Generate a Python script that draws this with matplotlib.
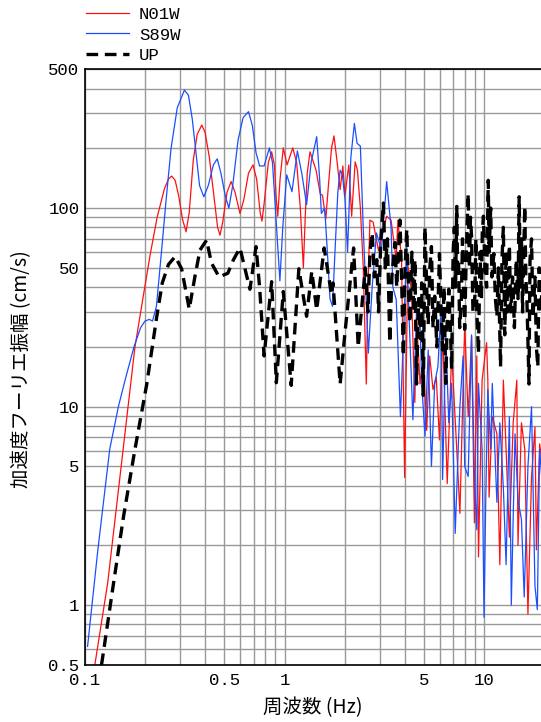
import numpy as np
import matplotlib.pyplot as plt
from matplotlib.ticker import FixedLocator, LogLocator, NullFormatter

# N01W
freq_n01w = [0.112, 0.130, 0.155, 0.178, 0.195, 0.212, 0.230, 0.250, 0.262, 0.272, 0.283, 0.295, 0.308, 0.321,
             0.333, 0.349, 0.365, 0.385, 0.400, 0.420, 0.445, 0.462, 0.475, 0.490, 0.515, 0.540, 0.565, 0.598,
             0.625, 0.660, 0.695, 0.725, 0.755, 0.771, 0.790, 0.830, 0.862, 0.890, 0.910, 0.925, 0.950, 0.986,
             1.03, 1.10, 1.15, 1.20, 1.243, 1.27, 1.30, 1.342, 1.44, 1.51, 1.55, 1.61, 1.66, 1.72, 1.77, 1.83,
             1.90, 1.96, 2.01, 2.10, 2.17, 2.26, 2.32, 2.40, 2.48, 2.57, 2.62, 2.68, 2.78, 2.96, 3.25, 3.42,
             3.63, 3.70, 3.86, 4.00, 4.15, 4.33, 4.50, 4.59, 4.78, 4.96, 5.16, 5.34, 5.55, 5.76, 5.98, 6.20,
             6.54, 6.88, 7.30, 7.57, 8.00, 8.33, 8.66, 8.95, 9.20, 9.38, 9.78, 10.3, 10.45, 10.6, 11.0, 11.6,
             12.0, 12.5, 12.9, 13.4, 14.0, 14.6, 14.8, 15.4, 16.0, 16.6, 17.3, 18.0, 18.3, 19.0, 19.6]
amp_n01w = [0.5, 1.3, 6.0, 20, 35, 58, 90, 125, 140, 145, 138, 115, 88, 76,
            95, 175, 235, 262, 240, 180, 110, 80, 73, 85, 120, 136, 120, 94,
            110, 150, 165, 140, 95, 86, 105, 170, 192, 165, 110, 91, 140, 201,
            165, 201, 170, 100, 50, 90, 150, 192, 155, 118, 116, 88, 130, 200, 231, 175,
            124, 163, 116, 165, 91, 171, 155, 100, 51, 13, 40, 87, 85, 61, 91, 87,
            55, 87, 55, 4.4, 52, 38, 10.5, 28, 13, 18, 7.6, 18, 12.2, 14.1, 6.8, 24,
            4.1, 18.6, 6.1, 2.9, 26, 8.9, 22.6, 2.6, 18, 1.75, 13.6, 21, 13.6, 3.5, 8.9, 7.3,
            1.6, 13.6, 6.1, 2.2, 8.3, 13.6, 2.0, 8.3, 6.1, 0.9, 4.4, 7.9, 1.9, 6.5, 5]

# S89W
freq_s89w = [0.103, 0.116, 0.133, 0.147, 0.160, 0.176, 0.190, 0.200, 0.210, 0.218, 0.228, 0.242, 0.255, 0.270,
             0.290, 0.315, 0.330, 0.345, 0.360, 0.375, 0.394, 0.415, 0.440, 0.460, 0.480, 0.505, 0.526, 0.550,
             0.585, 0.620, 0.660, 0.690, 0.720, 0.750, 0.790, 0.840, 0.870, 0.900, 0.948, 0.98, 1.026, 1.09,
             1.16, 1.22, 1.29, 1.36, 1.45, 1.50, 1.53, 1.59, 1.64, 1.69, 1.74, 1.79, 1.85, 1.90, 1.95, 2.01,
             2.07, 2.15, 2.24, 2.31, 2.40, 2.48, 2.58, 2.63, 2.75, 2.89, 3.06, 3.25, 3.42, 3.49, 3.63, 3.81,
             4.10, 4.15, 4.40, 4.59, 4.78, 4.87, 5.06, 5.25, 5.45, 5.66, 5.87, 6.09, 6.20, 6.43, 6.66, 6.88,
             7.17, 7.44, 7.57, 7.85, 8.0, 8.33, 8.66, 8.95, 9.2, 9.38, 9.78, 10.0, 10.2, 10.45, 10.8, 11.0,
             11.6, 12.0, 12.5, 12.9, 13.4, 13.7, 14.3, 14.8, 15.4, 15.9, 16.6, 17.3, 18.0, 18.5, 19.0, 19.6]
amp_s89w = [0.62, 1.9, 6.1, 10, 14, 20, 25, 27, 27.5, 27, 32, 61, 110, 200,
            320, 393, 370, 280, 190, 130, 114, 130, 165, 177, 150, 115, 100, 130,
            220, 285, 306, 260, 190, 163, 163, 201, 170, 100, 43, 80, 147, 121,
            194, 150, 104, 170, 229, 140, 94, 100, 60, 35, 32, 60, 120, 155, 147, 110,
            60, 180, 267, 212, 205, 80, 30.6, 18.6, 40, 75, 61.5, 136, 80, 40, 34.6, 8.9,
            64, 42, 8.6, 30.6, 26.3, 13.1, 7.1, 19.3, 5.0, 13.1, 15.9, 30.6, 4.3, 22.6, 8.3, 13.1,
            2.3, 6.5, 10, 18, 5.0, 4.45, 23, 4.3, 2.4, 13.1, 6.1, 0.87, 3.4, 12.2, 6.1, 13.1,
            3.3, 8.3, 3.9, 1.6, 8.9, 1.0, 7.3, 3.4, 2.7, 1.1, 5.0, 10, 1.25, 0.95, 6.1, 4]

# UP
freq_up = [0.121, 0.139, 0.156, 0.178, 0.204, 0.229, 0.244, 0.262, 0.283, 0.305, 0.333, 0.356, 0.377, 0.407,
           0.430, 0.470, 0.520, 0.555, 0.598, 0.671, 0.720, 0.750, 0.790, 0.862, 0.910, 0.986, 1.08, 1.18,
           1.29, 1.37, 1.45, 1.58, 1.72, 1.75, 1.90, 2.00, 2.22, 2.34,
           2.54, 2.62, 2.68, 2.75, 2.82, 2.90, 2.96, 3.04, 3.13, 3.20, 3.28, 3.37, 3.45, 3.58, 3.65, 3.79,
           3.86, 3.94, 4.02, 4.10, 4.18, 4.25, 4.35, 4.45, 4.50, 4.59, 4.70, 4.80, 4.87, 4.96, 5.06, 5.16,
           5.25, 5.35, 5.45, 5.55, 5.66, 5.80, 5.98, 6.10, 6.20, 6.30, 6.43, 6.55, 6.66, 6.78, 6.88, 7.0,
           7.1, 7.2, 7.3, 7.38, 7.45, 7.55, 7.7, 7.8, 7.9, 8.0, 8.15, 8.33, 8.45, 8.55, 8.66, 8.8, 9.0,
           9.1, 9.2, 9.38, 9.55, 9.7, 9.8, 9.93, 10.1, 10.3, 10.5, 10.6, 10.8, 10.95, 11.2, 11.4, 11.6,
           11.8, 12.1, 12.3, 12.5, 12.7, 12.9, 13.1, 13.4, 13.6, 13.9, 14.2, 14.5, 14.8, 15.0, 15.2, 15.4,
           15.6, 16.0, 16.2, 16.4, 16.8, 17.0, 17.3, 17.6, 18.0, 18.3, 18.6, 18.9, 19.3, 19.6]
amp_up = [0.5, 1.29, 2.8, 6.1, 13, 28.5, 42, 52, 57, 49.5, 31, 45.5, 61.5, 69,
          53, 45, 47, 55, 63, 39, 64, 40, 18, 42.6, 13.2, 38, 12.8, 49.5,
          28.5, 48, 30.7, 63, 36.7, 42, 13, 22.5, 63, 20,
          50, 30, 60, 75, 45, 55, 30, 70, 106, 50, 70, 21, 45, 67, 40, 87,
          45, 18, 50, 78, 40, 26.5, 60, 30, 55, 13, 35, 22, 42, 11.4, 80, 40,
          26, 50, 64, 25, 36, 20, 59, 30, 19.3, 40, 13.1, 30, 39, 25, 15.5, 60,
          80, 40, 102, 45, 55, 25, 35, 70, 40, 24.5, 60, 118, 50, 90, 72, 30, 36,
          70, 30, 18.6, 60, 35, 75, 91, 50, 40, 138, 60, 100, 45, 59, 35, 28.5,
          50, 15.9, 55, 80, 23, 60, 30, 65, 30, 45, 25, 55, 35, 114, 40, 70,
          30, 102, 45, 35, 13, 55, 70, 28, 45, 20, 15.9, 50, 30, 45]

x_ticks = [0.1, 0.5, 1, 5, 10]
x_labels = ['0.1', '0.5', '1', '5', '10']
y_ticks = [0.5, 1, 5, 10, 50, 100, 500]
y_labels = ['0.5', '1', '5', '10', '50', '100', '500']

num_font = 'Liberation Mono'
jp_font = ['Noto Sans CJK JP', 'DejaVu Sans']

fig = plt.figure(figsize=(5.41, 7.22), dpi=100)
ax = fig.add_axes([85 / 541, 1 - 665 / 722, (541 - 85) / 541, (665 - 69.3) / 722])
ax.set_xscale('log')
ax.set_yscale('log')

ax.plot(freq_n01w, amp_n01w, color='#ff1010', lw=0.9, label='N01W')
ax.plot(freq_s89w, amp_s89w, color='#1a4fff', lw=0.9, label='S89W')
ax.plot(freq_up, amp_up, color='black', lw=2.4, dashes=(3.5, 2.0), label='UP')

ax.set_xlim(0.1, 19.3)
ax.set_ylim(0.5, 500)

ax.xaxis.set_major_locator(FixedLocator(x_ticks))
ax.yaxis.set_major_locator(FixedLocator(y_ticks))
ax.xaxis.set_minor_locator(LogLocator(base=10, subs=np.arange(1, 10)))
ax.yaxis.set_minor_locator(LogLocator(base=10, subs=np.arange(1, 10)))
ax.xaxis.set_minor_formatter(NullFormatter())
ax.yaxis.set_minor_formatter(NullFormatter())
ax.set_xticklabels(x_labels, fontfamily=num_font, fontsize=12.5)
ax.set_yticklabels(y_labels, fontfamily=num_font, fontsize=12.5)
ax.tick_params(which='both', length=0)
ax.tick_params(axis='x', pad=6)
ax.tick_params(axis='y', pad=4)

ax.grid(which='both', color='#999999', lw=1.0)
ax.set_axisbelow(True)
ax.spines['right'].set_visible(False)
for s in ['left', 'top', 'bottom']:
    ax.spines[s].set_linewidth(1.2)

fig.text(313 / 541, 1 - 708 / 722, '周波数 (Hz)', family=jp_font, fontsize=14,
         ha='center', va='center')
fig.text(22 / 541, 1 - 369 / 722, '加速度フーリエ振幅 (cm/s)', family=jp_font, fontsize=14,
         ha='center', va='center', rotation=90)

fig.legend(loc='upper left', bbox_to_anchor=(86 / 541, 1 - 7 / 722), frameon=False,
           prop={'family': num_font, 'size': 12.5}, handlelength=2.5, handletextpad=0.55,
           labelspacing=0.3, borderpad=0, borderaxespad=0)

fig.savefig('out.png', dpi=100)
